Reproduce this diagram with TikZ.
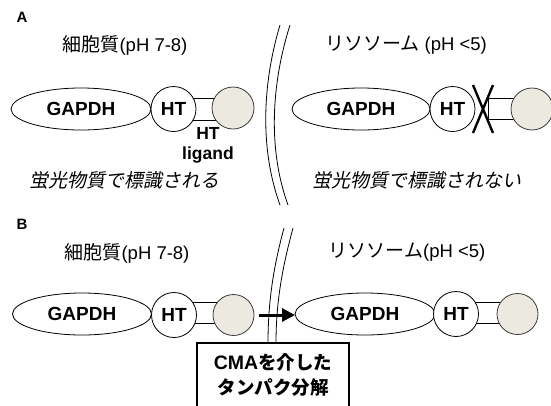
\documentclass[tikz,border=0pt]{standalone}
\usepackage{fontspec}
\setmainfont{Liberation Sans}
\newfontfamily\cjk{Noto Sans CJK JP}
\newfontfamily\cjkit[FakeSlant=0.2]{Noto Sans CJK JP}
\newfontfamily\cjkbf{Noto Sans CJK JP Bold}
\usetikzlibrary{shapes.geometric,arrows.meta}
\definecolor{ligfill}{HTML}{ECEAE0}
\definecolor{ligdraw}{HTML}{3A3A3A}
\tikzset{
  gapdh/.style={ellipse, draw, fill=white, line width=0.8pt, inner sep=0pt,
    minimum width=140pt, minimum height=42pt, font=\fontsize{19}{21}\selectfont\bfseries},
  htc/.style={circle, draw, fill=white, line width=0.8pt, inner sep=0pt,
    minimum size=45pt, font=\fontsize{19}{21}\selectfont\bfseries},
  lig/.style={circle, draw=ligdraw, fill=ligfill, line width=0.8pt, inner sep=0pt, minimum size=42pt},
  linker/.style={rectangle, draw, fill=white, line width=0.8pt, inner sep=0pt},
  lbl/.style={inner sep=0pt, font=\fontsize{18.5}{20}\selectfont},
  panel/.style={inner sep=0pt, font=\fontsize{15}{17}\selectfont\bfseries},
  memb/.style={line width=0.8pt},
  cross/.style={line width=2.4pt},
}
\begin{document}
\begin{tikzpicture}[x=1pt,y=-1pt]
\useasboundingbox (0,0) rectangle (551,405);
% ---------- Panel A ----------
\node[panel] (pA) at (22,17) {A};
\node[lbl] (cytA) at (125,45) {{\cjk\fontsize{19}{20}\selectfont 細胞質}(pH 7-8)};
\node[lbl] (lysA) at (406,45) {{\cjk\fontsize{19}{20}\selectfont リソソーム} (pH <5)};
% left construct
\node[linker, minimum width=36pt, minimum height=22pt] (lkA1) at (207,109) {};
\node[gapdh] (gA1) at (81,109) {GAPDH};
\node[htc] (hA1) at (173.5,109) {HT};
\node[lig] (lA1) at (233,108) {};
\node[inner sep=0pt, align=center, font=\fontsize{17.5}{20}\selectfont\bfseries] (htl) at (208,145) {HT\\ligand};
\node[lbl] (fA1) at (124,180) {\cjkit\fontsize{19}{20}\selectfont 蛍光物質で標識される};
% right construct
\node[linker, minimum width=28pt, minimum height=21pt] (lkA2) at (502,108.5) {};
\node[gapdh, minimum width=138pt] (gA2) at (361,109) {GAPDH};
\node[htc] (hA2) at (452.5,109) {HT};
\node[lig] (lA2) at (532,109) {};
\coordinate (x1) at (473,85);
\coordinate (x2) at (493,133);
\coordinate (x3) at (493,85);
\coordinate (x4) at (473,133);
\draw[cross] (x1) -- (x2);
\draw[cross] (x3) -- (x4);
\node[lbl] (fA2) at (417,180) {\cjkit\fontsize{19}{20}\selectfont 蛍光物質で標識されない};
% membrane A
\draw[memb] (280,25) .. controls (262,85) and (260,150) .. (280,205);
\draw[memb] (290,25) .. controls (271,85) and (268,150) .. (288,205);
% ---------- Panel B ----------
\node[panel] (pB) at (22,224) {B};
\node[lbl] (cytB) at (127,253) {{\cjk\fontsize{19}{20}\selectfont 細胞質}(pH 7-8)};
\node[lbl] (lysB) at (407,252) {{\cjk\fontsize{19}{20}\selectfont リソソーム}(pH <5)};
% membrane B
\draw[memb] (284,228) .. controls (274,265) and (268,300) .. (268,343) -- (268,360);
\draw[memb] (293,228) .. controls (283,265) and (276,300) .. (276,343) -- (276,360);
% left construct
\node[linker, minimum width=36pt, minimum height=21pt] (lkB1) at (207,312.5) {};
\node[gapdh, minimum width=139pt] (gB1) at (82,314) {GAPDH};
\node[htc] (hB1) at (174,315) {HT};
\node[lig, minimum size=41pt] (lB1) at (233.5,315) {};
% right construct
\node[linker, minimum width=34pt, minimum height=21pt] (lkB2) at (488,312.5) {};
\node[gapdh] (gB2) at (365,314) {GAPDH};
\node[htc] (hB2) at (456,314) {HT};
\node[lig, minimum size=41pt] (lB2) at (517.5,314) {};
% arrow
\coordinate (a1) at (259,315);
\coordinate (a2) at (295,315);
\draw[line width=3pt, -{Triangle[length=13pt,width=13pt]}] (a1) -- (a2);
% box
\node[draw, line width=1.2pt, fill=white, minimum width=152pt, minimum height=64pt,
  inner sep=0pt, align=center, font=\fontsize{19.5}{25}\selectfont\bfseries] (cma) at (273,375)
  {CMA{\cjkbf\fontsize{18.5}{25}\selectfont を介した}\\{\cjkbf\fontsize{18.5}{25}\selectfont タンパク分解}};
\end{tikzpicture}
\end{document}
